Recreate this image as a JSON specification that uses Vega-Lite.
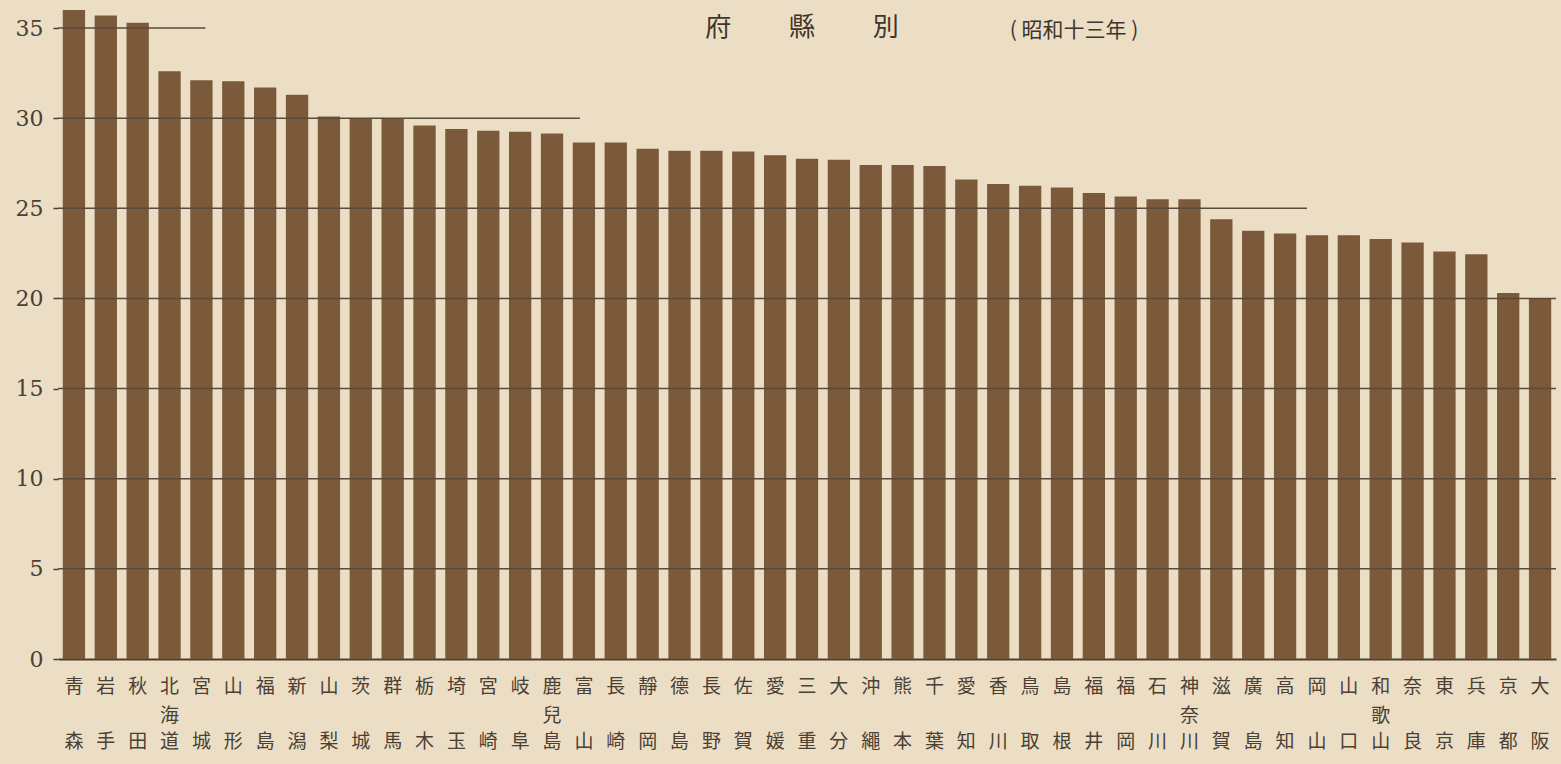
{
  "$schema": "https://vega.github.io/schema/vega-lite/v6.json",
  "width": 1561,
  "height": 764,
  "autosize": {"type": "fit", "contains": "padding"},
  "padding": {"left": 0, "top": 1, "right": 4, "bottom": 0},
  "background": "#ecdec5",
  "config": {"view": {"stroke": null}, "font": "Noto Sans CJK JP"},
  "datasets": {
    "prefs": [
      {"name": "靑森", "value": 36.0},
      {"name": "岩手", "value": 35.7},
      {"name": "秋田", "value": 35.3},
      {"name": "北海道", "value": 32.6},
      {"name": "宮城", "value": 32.1},
      {"name": "山形", "value": 32.05},
      {"name": "福島", "value": 31.7},
      {"name": "新潟", "value": 31.3},
      {"name": "山梨", "value": 30.1},
      {"name": "茨城", "value": 30.0},
      {"name": "群馬", "value": 29.95},
      {"name": "栃木", "value": 29.6},
      {"name": "埼玉", "value": 29.4},
      {"name": "宮崎", "value": 29.3},
      {"name": "岐阜", "value": 29.25},
      {"name": "鹿兒島", "value": 29.15},
      {"name": "富山", "value": 28.65},
      {"name": "長崎", "value": 28.65},
      {"name": "靜岡", "value": 28.3},
      {"name": "德島", "value": 28.2},
      {"name": "長野", "value": 28.2},
      {"name": "佐賀", "value": 28.15},
      {"name": "愛媛", "value": 27.95},
      {"name": "三重", "value": 27.75},
      {"name": "大分", "value": 27.7},
      {"name": "沖繩", "value": 27.4},
      {"name": "熊本", "value": 27.4},
      {"name": "千葉", "value": 27.35},
      {"name": "愛知", "value": 26.6},
      {"name": "香川", "value": 26.35},
      {"name": "鳥取", "value": 26.25},
      {"name": "島根", "value": 26.15},
      {"name": "福井", "value": 25.85},
      {"name": "福岡", "value": 25.65},
      {"name": "石川", "value": 25.5},
      {"name": "神奈川", "value": 25.5},
      {"name": "滋賀", "value": 24.4},
      {"name": "廣島", "value": 23.75},
      {"name": "高知", "value": 23.6},
      {"name": "岡山", "value": 23.5},
      {"name": "山口", "value": 23.5},
      {"name": "和歌山", "value": 23.3},
      {"name": "奈良", "value": 23.1},
      {"name": "東京", "value": 22.6},
      {"name": "兵庫", "value": 22.45},
      {"name": "京都", "value": 20.3},
      {"name": "大阪", "value": 20.0}
    ],
    "grid": [{"value": 5}, {"value": 10}, {"value": 15}, {"value": 20}],
    "mid": [
      {"name": "北海道", "value": -3.16, "t": "海"},
      {"name": "鹿兒島", "value": -3.16, "t": "兒"},
      {"name": "神奈川", "value": -3.16, "t": "奈"},
      {"name": "和歌山", "value": -3.16, "t": "歌"}
    ]
  },
  "layer": [
    {
      "data": {"name": "prefs"},
      "mark": {"type": "bar", "color": "#7a5a3b"},
      "encoding": {
        "x": {
          "field": "name",
          "type": "nominal",
          "sort": null,
          "title": null,
          "scale": {
            "domain": ["靑森","岩手","秋田","北海道","宮城","山形","福島","新潟","山梨","茨城","群馬","栃木","埼玉","宮崎","岐阜","鹿兒島","富山","長崎","靜岡","德島","長野","佐賀","愛媛","三重","大分","沖繩","熊本","千葉","愛知","香川","鳥取","島根","福井","福岡","石川","神奈川","滋賀","廣島","高知","岡山","山口","和歌山","奈良","東京","兵庫","京都","大阪"],
            "paddingInner": 0.3,
            "paddingOuter": 0.15
          },
          "axis": {
            "title": null,
            "labelAngle": 0,
            "labelAlign": "center",
            "labelBaseline": "top",
            "labelExpr": "[substring(datum.label,0,1), substring(datum.label,length(datum.label)-1,length(datum.label))]",
            "labelLineHeight": 55,
            "labelFontSize": 19,
            "labelColor": "#4a4034",
            "labelPadding": 18,
            "labelOverlap": false,
            "labelLimit": 0,
            "ticks": false,
            "domainColor": "#4a3e32",
            "domainWidth": 2,
            "minExtent": 105,
            "maxExtent": 105
          }
        },
        "y": {
          "field": "value",
          "type": "quantitative",
          "title": null,
          "scale": {"domain": [0, 36.5], "nice": false},
          "axis": {
            "title": null,
            "values": [0, 5, 10, 15, 20, 25, 30, 35],
            "labelFont": "DejaVu Serif",
            "labelFontSize": 22,
            "labelColor": "#4a4034",
            "tickSize": 5,
            "tickWidth": 1.5,
            "tickColor": "#4a3e32",
            "labelPadding": 10,
            "domain": false,
            "grid": false,
            "minExtent": 58,
            "maxExtent": 58
          }
        }
      }
    },
    {
      "data": {"name": "grid"},
      "mark": {"type": "rule", "color": "#5a4a3a", "strokeWidth": 1.5},
      "encoding": {
        "y": {"field": "value", "type": "quantitative", "title": null}
      }
    },
    {
      "data": {"values": [{"name": "靑森", "to": "宮城", "value": 35}]},
      "mark": {"type": "rule", "color": "#5a4a3a", "strokeWidth": 1.5, "xOffset": -16, "x2Offset": 4},
      "encoding": {
        "x": {"field": "name", "type": "nominal", "title": null},
        "x2": {"field": "to"},
        "y": {"field": "value", "type": "quantitative", "title": null}
      }
    },
    {
      "data": {"values": [{"name": "靑森", "to": "富山", "value": 30}]},
      "mark": {"type": "rule", "color": "#5a4a3a", "strokeWidth": 1.5, "xOffset": -16, "x2Offset": -4},
      "encoding": {
        "x": {"field": "name", "type": "nominal", "title": null},
        "x2": {"field": "to"},
        "y": {"field": "value", "type": "quantitative", "title": null}
      }
    },
    {
      "data": {"values": [{"name": "靑森", "to": "岡山", "value": 25}]},
      "mark": {"type": "rule", "color": "#5a4a3a", "strokeWidth": 1.5, "xOffset": -16, "x2Offset": -10},
      "encoding": {
        "x": {"field": "name", "type": "nominal", "title": null},
        "x2": {"field": "to"},
        "y": {"field": "value", "type": "quantitative", "title": null}
      }
    },
    {
      "data": {"name": "mid"},
      "mark": {"type": "text", "fontSize": 19, "baseline": "middle", "align": "center", "color": "#4a4034"},
      "encoding": {
        "x": {"field": "name", "type": "nominal", "title": null},
        "y": {"field": "value", "type": "quantitative", "title": null},
        "text": {"field": "t"}
      }
    },
    {
      "data": {"values": [{"name": "三重", "value": 35.0, "t": "府　　 縣　　 別"}]},
      "mark": {"type": "text", "fontSize": 26, "dx": -5, "baseline": "middle", "align": "center", "color": "#3e362d"},
      "encoding": {
        "x": {"field": "name", "type": "nominal", "title": null},
        "y": {"field": "value", "type": "quantitative", "title": null},
        "text": {"field": "t"}
      }
    },
    {
      "data": {"values": [{"name": "島根", "value": 34.85, "t": "( 昭和十三年 )"}]},
      "mark": {"type": "text", "fontSize": 21, "dx": 12, "baseline": "middle", "align": "center", "color": "#3e362d"},
      "encoding": {
        "x": {"field": "name", "type": "nominal", "title": null},
        "y": {"field": "value", "type": "quantitative", "title": null},
        "text": {"field": "t"}
      }
    }
  ]
}
